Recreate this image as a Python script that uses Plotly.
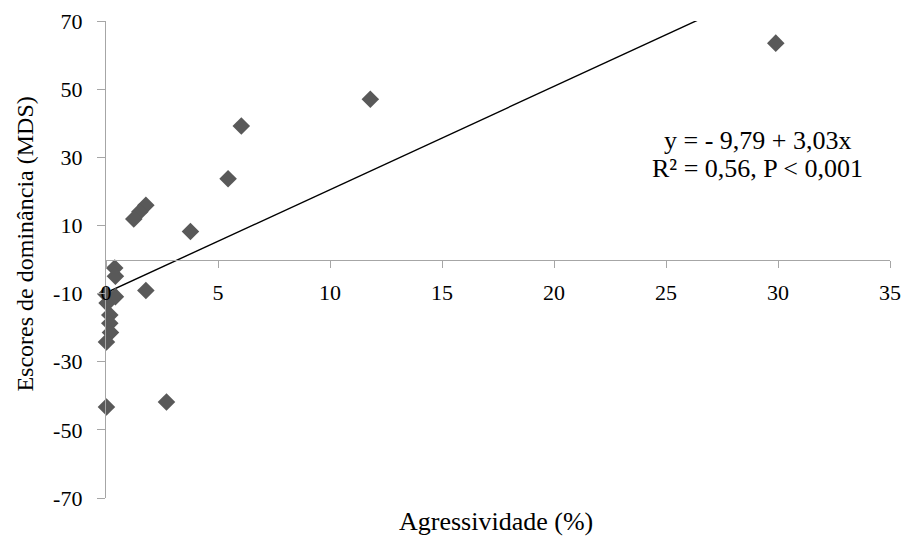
import plotly.graph_objects as go

# Data
agressividade = [29.9, 11.8, 6.04, 5.45, 3.77, 1.78, 1.51, 1.24, 1.78, 2.70, 0.02,
                 0.39, 0.42, 0.0, 0.42, 0.05, 0.17, 0.17, 0.20, 0.02]
escores = [63.5, 47.05, 39.2, 23.7, 8.2, 15.9, 14.0, 11.9, -9.1, -41.8, -43.3,
           -2.5, -4.9, -10.2, -10.9, -12.8, -16.3, -18.7, -21.4, -24.2]

intercept = -9.79
slope = 3.03
trend_x = [0, max(agressividade)]
trend_y = [intercept + slope * v for v in trend_x]

x_ticks = [0, 5, 10, 15, 20, 25, 30, 35]
y_ticks = [-70, -50, -30, -10, 10, 30, 50, 70]

equation_lines = ["y = - 9,79 + 3,03x", "R² = 0,56, P < 0,001"]

font_family = "'Times New Roman', 'Liberation Serif', 'DejaVu Serif', serif"
axis_color = "#A6A6A6"

fig = go.Figure()
fig.add_trace(go.Scatter(
    x=trend_x, y=trend_y, mode="lines",
    line=dict(color="black", width=1.4), hoverinfo="skip", showlegend=False))
fig.add_trace(go.Scatter(
    x=agressividade, y=escores, mode="markers",
    marker=dict(symbol="diamond", size=13.5, color="#595959", line=dict(width=0)),
    showlegend=False, cliponaxis=False))

fig.update_layout(
    width=907, height=537,
    margin=dict(l=106, r=17, t=21, b=39),
    paper_bgcolor="white", plot_bgcolor="white",
    font=dict(family=font_family, size=22, color="black"),
    xaxis=dict(range=[0, 35], tickvals=x_ticks, ticktext=[str(v) for v in x_ticks],
               showgrid=False, zeroline=False, showline=True, linecolor=axis_color,
               linewidth=1.3, ticks="outside", ticklen=7, tickcolor=axis_color,
               tickwidth=1.3, anchor="free", position=0.5, ticklabelstandoff=6,
               automargin=False,
               tickfont=dict(family=font_family, size=22, color="black")),
    yaxis=dict(range=[-70, 70], tickvals=y_ticks, ticktext=[str(v) for v in y_ticks],
               showgrid=False, zeroline=False, showline=True, linecolor=axis_color,
               linewidth=1.3, ticks="outside", ticklen=8, tickcolor=axis_color,
               tickwidth=1.3, ticklabelstandoff=10, automargin=False,
               tickfont=dict(family=font_family, size=22, color="black")),
    annotations=[
        dict(text=equation_lines[0], x=0.831, y=0.749, xref="paper", yref="paper",
             showarrow=False, xanchor="center", yanchor="middle",
             font=dict(family=font_family, size=26, color="black")),
        dict(text=equation_lines[1], x=0.831, y=0.690, xref="paper", yref="paper",
             showarrow=False, xanchor="center", yanchor="middle",
             font=dict(family=font_family, size=26, color="black")),
        dict(text="Agressividade (%)", x=0.4975, y=-0.0497, xref="paper", yref="paper",
             yanchor="middle", showarrow=False,
             font=dict(family=font_family, size=26, color="black")),
        dict(text="Escores de dominância (MDS)", x=-0.1036, y=0.533, xref="paper",
             yref="paper", textangle=-90, showarrow=False, xanchor="center",
             yanchor="middle",
             font=dict(family=font_family, size=24, color="black")),
    ],
)

fig.write_html("out.html", config={"displayModeBar": False},
               post_script="document.body.style.margin='0px';")
